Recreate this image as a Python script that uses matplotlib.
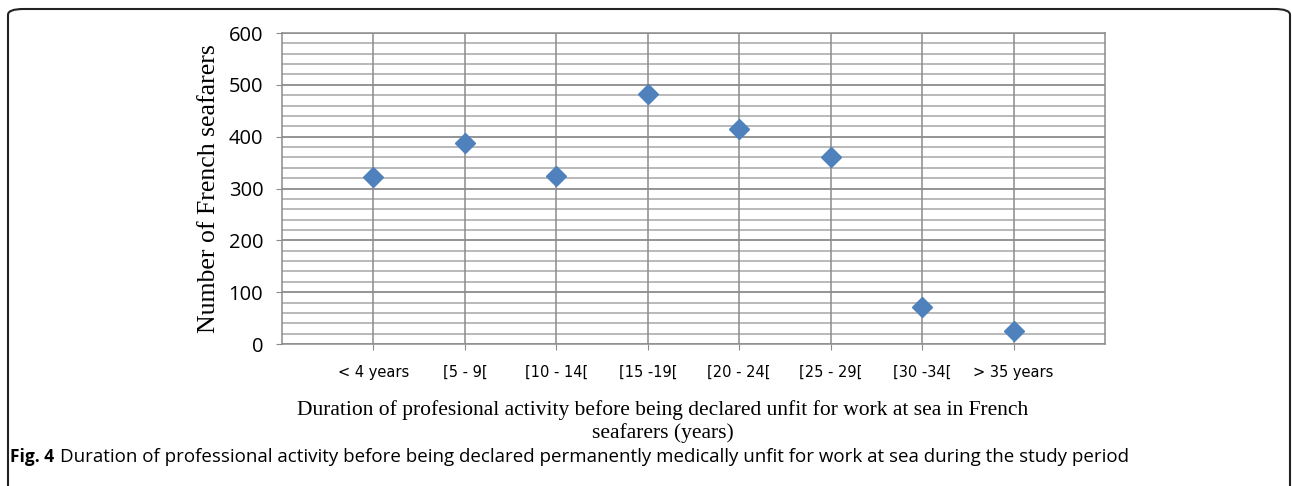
import matplotlib.pyplot as plt
from matplotlib.patches import FancyBboxPatch

categories = ["< 4 years", "[5 - 9[", "[10 - 14[", "[15 -19[", "[20 - 24[", "[25 - 29[", "[30 -34[", "> 35 years"]
counts = [322, 388, 324, 482, 415, 361, 71, 25]
yticks = [0, 100, 200, 300, 400, 500, 600]

fig = plt.figure(figsize=(12.92, 4.86), dpi=100)
ax = fig.add_axes([282/1292, 1-344/486, (1105-282)/1292, (344-33)/486])

xpos = list(range(1, len(categories)+1))
ax.set_xlim(0, len(categories)+1)
ax.set_ylim(0, 600)

# minor grid every 20, major every 100
for v in range(20, 600, 20):
    ax.axhline(v, color="#a6a6a6", lw=1.1, zorder=0)
for v in yticks:
    ax.axhline(v, color="#8c8c8c", lw=1.1, zorder=0)
for x in xpos:
    ax.axvline(x, color="#8c8c8c", lw=1.1, zorder=0)

ax.plot(xpos, counts, "D", color="#4F81BD", ms=10.5, zorder=3)

for s in ax.spines.values():
    s.set_color("#8c8c8c")
    s.set_linewidth(1.1)

ax.set_yticks(yticks)
ax.set_yticklabels([str(v) for v in yticks], fontsize=14.5, family="Open Sans")
ax.tick_params(axis="y", length=4.5, color="#8c8c8c", pad=9)
ax.set_xticks(xpos)
ax.set_xticklabels(categories, fontsize=10.5, family="DejaVu Sans")
ax.tick_params(axis="x", length=4, color="#8c8c8c", pad=11)

ax.set_ylabel("Number of French seafarers", family="Liberation Serif", fontsize=18.5, labelpad=6)

fig.text(663/1292, 1-410/486, "Duration of profesional activity before being declared unfit for work at sea in French",
         ha="center", va="center", family="Liberation Serif", fontsize=15.5)
fig.text(663/1292, 1-433/486, "seafarers (years)",
         ha="center", va="center", family="Liberation Serif", fontsize=15.5)

fig.text(10/1292, 1-457/486, "Fig. 4", ha="left", va="center", family="Open Sans", fontsize=12.5, weight="bold")
fig.text(60/1292, 1-457/486, "Duration of professional activity before being declared permanently medically unfit for work at sea during the study period",
         ha="left", va="center", family="Open Sans", fontsize=13.5)

box = FancyBboxPatch((8/1292, -0.1), (1290-8)/1292, 1-9/486+0.1, boxstyle="round,pad=0,rounding_size=0.012",
                     transform=fig.transFigure, fill=False, ec="#222222", lw=1.5, clip_on=False)
fig.patches.append(box)

fig.savefig("out.png", dpi=100)
